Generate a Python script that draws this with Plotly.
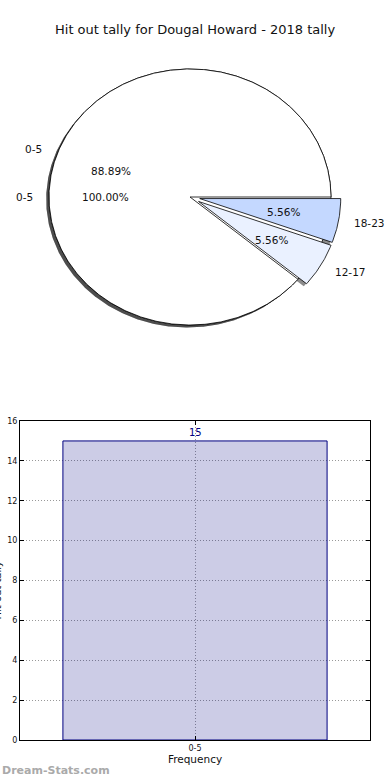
import numpy as np
import plotly.graph_objects as go

# ---------------- data ----------------
title_text = "Hit out tally for Dougal Howard - 2018 tally"

full_labels = ["0-5"]
full_values = [15]
full_colors = ["#ffffff"]

pie_labels = ["0-5", "12-17", "18-23"]
pie_values = [16, 1, 1]
pie_explode = [0, 0.07, 0.07]
pie_colors = ["#ffffff", "#eaf1ff", "#c4d8ff"]

bar_categories = ["0-5"]
bar_counts = [15]
y_ticks = [0, 2, 4, 6, 8, 10, 12, 14, 16]

# ---------------- layout geometry ----------------
W, H = 390, 780
CX, CY, RX, RY = 190, 197, 141, 128      # pie centre / radii in px
PIE_BOTTOM_PX = 400
SHADOW = (-0.02, -0.02)

fig = go.Figure()


def wedges(values, explode):
    total = float(sum(values))
    out = []
    t = 0.0
    for v, e in zip(values, explode):
        t1, t2 = t, t + 360.0 * v / total
        t = t2
        tm = np.radians((t1 + t2) / 2)
        out.append(dict(t1=t1, t2=t2, tm=tm, ox=e * np.cos(tm), oy=e * np.sin(tm),
                        frac=v / total))
    return out


def wedge_xy(t1, t2, ox, oy):
    n = max(3, int(abs(t2 - t1) * 2) + 1)
    th = np.radians(np.linspace(t1, t2, n))
    x = ox + np.cos(th)
    y = oy + np.sin(th)
    if abs(t2 - t1) < 360 - 1e-9:
        x = np.concatenate([[ox], x, [ox]])
        y = np.concatenate([[oy], y, [oy]])
    return x, y


pies = [
    (full_labels, full_values, [0] * len(full_values), full_colors),
    (pie_labels, pie_values, pie_explode, pie_colors),
]

# shadows first (below all wedges)
for labels, values, explode, colors in pies:
    for w in wedges(values, explode):
        x, y = wedge_xy(w["t1"], w["t2"], w["ox"] + SHADOW[0], w["oy"] + SHADOW[1])
        fig.add_trace(go.Scatter(x=x, y=y, mode="lines", fill="toself",
                                 fillcolor="rgba(0,0,0,0.45)",
                                 line=dict(width=0, color="rgba(0,0,0,0)"),
                                 hoverinfo="skip", showlegend=False,
                                 xaxis="x", yaxis="y"))

annotations = []
for labels, values, explode, colors in pies:
    for lab, col, w in zip(labels, colors, wedges(values, explode)):
        x, y = wedge_xy(w["t1"], w["t2"], w["ox"], w["oy"])
        fig.add_trace(go.Scatter(x=x, y=y, mode="lines", fill="toself",
                                 fillcolor=col, line=dict(width=0.8, color="black"),
                                 hoverinfo="skip", showlegend=False,
                                 xaxis="x", yaxis="y"))
        xt = w["ox"] + 1.1 * np.cos(w["tm"])
        yt = w["oy"] + 1.1 * np.sin(w["tm"])
        annotations.append(dict(x=xt, y=yt, xref="x", yref="y", text=lab,
                                showarrow=False, xanchor="left" if xt > 0 else "right",
                                yanchor="middle",
                                font=dict(family="DejaVu Sans", size=10.5, color="#111")))
        xp = w["ox"] + 0.6 * np.cos(w["tm"])
        yp = w["oy"] + 0.6 * np.sin(w["tm"])
        annotations.append(dict(x=xp, y=yp, xref="x", yref="y",
                                text="%.2f%%" % (100 * w["frac"]),
                                showarrow=False, xanchor="center", yanchor="middle",
                                font=dict(family="DejaVu Sans", size=10.5, color="#111")))

# ---------------- bar chart ----------------
fig.add_trace(go.Bar(x=bar_categories, y=bar_counts, width=0.8,
                     marker=dict(color="rgba(0,0,128,0.2)",
                                 line=dict(color="navy", width=1)),
                     hoverinfo="skip", showlegend=False,
                     xaxis="x2", yaxis="y2"))
for c, v in zip(bar_categories, bar_counts):
    annotations.append(dict(x=c, y=v, xref="x2", yref="y2", text=str(v),
                            showarrow=False, yanchor="bottom", yshift=1,
                            font=dict(family="DejaVu Sans", size=10, color="navy")))

annotations.append(dict(x=0.5, y=1 - 30 / H, xref="paper", yref="paper",
                        text=title_text, showarrow=False, xanchor="center",
                        yanchor="middle",
                        font=dict(family="DejaVu Sans", size=13, color="#111")))
annotations.append(dict(x=0, y=10 / H, xref="paper", yref="paper",
                        text="<b>Dream-Stats.com</b>", showarrow=False,
                        xanchor="left", yanchor="middle",
                        font=dict(family="DejaVu Sans", size=11, color="#aaaaaa")))
annotations.append(dict(x=4 / W, y=1 - 590 / H, xref="paper", yref="paper",
                        text="Hit out tally", textangle=-90, showarrow=False,
                        xanchor="right", yanchor="middle",
                        font=dict(family="DejaVu Sans", size=10, color="#111")))

grid = dict(showgrid=True, gridcolor="#999999", griddash="1px,2px", gridwidth=1)

fig.update_layout(
    width=W, height=H, margin=dict(l=0, r=0, t=0, b=0, autoexpand=False),
    paper_bgcolor="white", plot_bgcolor="rgba(0,0,0,0)",
    annotations=annotations,
    xaxis=dict(domain=[0, 1], range=[(0 - CX) / RX, (W - CX) / RX],
               visible=False, fixedrange=True, automargin=False),
    yaxis=dict(domain=[1 - PIE_BOTTOM_PX / H, 1],
               range=[(CY - PIE_BOTTOM_PX) / RY, CY / RY],
               visible=False, fixedrange=True, automargin=False),
    xaxis2=dict(domain=[20 / W, 370 / W], anchor="y2", type="category",
                range=[-0.53, 0.53], showline=True, linecolor="black", linewidth=1,
                mirror="ticks", ticks="inside", ticklen=4, tickcolor="black",
                tickfont=dict(family="DejaVu Sans", size=8, color="#111"),
                title=dict(text="Frequency", standoff=2,
                           font=dict(family="DejaVu Sans", size=10.5, color="#111")),
                zeroline=False, automargin=False, fixedrange=True, **grid),
    yaxis2=dict(domain=[40 / H, 359 / H], anchor="x2", range=[0, 16],
                tickvals=y_ticks, showline=True, linecolor="black", linewidth=1,
                mirror="ticks", ticks="inside", ticklen=4, tickcolor="black",
                tickfont=dict(family="DejaVu Sans", size=8, color="#111"),
                zeroline=False, automargin=False, fixedrange=True, **grid),
)

fig.write_html("out.html", config=dict(displayModeBar=False, staticPlot=True),
               post_script="document.body.style.margin='0';document.body.style.overflow='hidden';")
